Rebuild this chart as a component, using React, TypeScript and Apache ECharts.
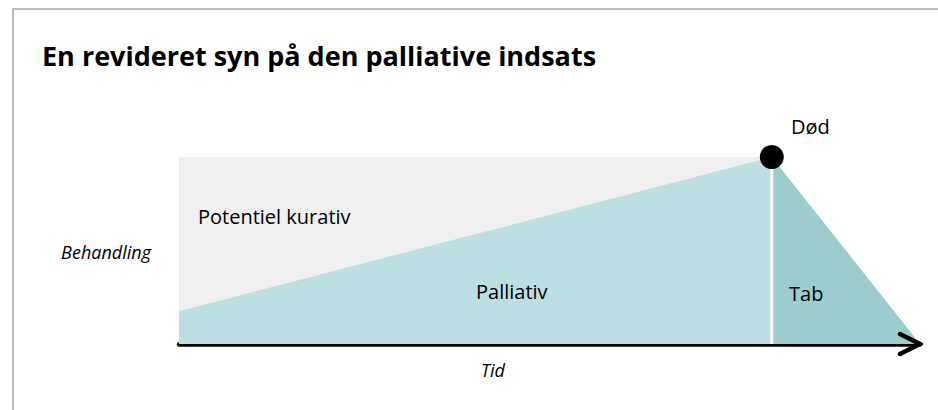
import React, { useEffect, useRef } from "react";
import * as echarts from "echarts";

// Time positions (0 = start, 80 = death, 100 = end of bereavement)
const timeStart = 0;
const timeDeath = 80;
const timeEnd = 100;
// Treatment levels
const curativeLevel = [100, 100];
const palliativeLevel = [17.5, 100];
const lossLevel = [100, 0];
const deathPoint = [timeDeath, 100];
const arrowHead = [[97.3, 5.3], [100, 0], [97.3, -5.3]];

const titleText = "En revideret syn på den palliative indsats";
const xName = "Tid";
const yName = "Behandling";
const labels = { curative: "Potentiel kurativ", palliative: "Palliativ", loss: "Tab", death: "Død" };

const FONT = "'Open Sans', 'Noto Sans', sans-serif";

export default function App() {
  const ref = useRef<HTMLDivElement>(null);
  useEffect(() => {
    document.body.style.margin = "0";
    const chart = echarts.init(ref.current!, null, { renderer: "svg" });
    const grid = { left: 179, right: 18, top: 157, bottom: 66 };
    const txt = (text: string, x: number, y: number, extra: any = {}) => ({
      type: "text",
      x,
      y,
      z: 100,
      style: { text, fontFamily: FONT, fontSize: 20, fill: "#000", verticalAlign: "middle", ...extra },
    });
    chart.setOption({
      animation: false,
      backgroundColor: "#ffffff",
      title: {
        text: titleText,
        left: 37,
        top: 37,
        textStyle: { fontFamily: FONT, fontSize: 27, fontWeight: "bold", color: "#000" },
      },
      grid,
      xAxis: {
        type: "value",
        min: timeStart,
        max: timeEnd,
        axisLine: { show: true, lineStyle: { color: "#000", width: 4.5 } },
        axisTick: { show: false },
        axisLabel: { show: false },
        splitLine: { show: false },
      },
      yAxis: {
        type: "value",
        min: 0,
        max: 100,
        axisLine: { show: false },
        axisTick: { show: false },
        axisLabel: { show: false },
        splitLine: { show: false },
      },
      graphic: [
        {
          type: "rect",
          shape: { x: 13, y: 9, width: 940, height: 420 },
          style: { fill: "none", stroke: "#bbbbbb", lineWidth: 2 },
          silent: true,
        },
        txt(yName, 151, 252, { fontSize: 18, fontStyle: "italic", align: "right" }),
        txt(xName, 493, 370, { fontSize: 18, fontStyle: "italic", align: "center" }),
        txt(labels.curative, 198, 216),
        txt(labels.palliative, 476, 291),
        txt(labels.loss, 789, 293),
        txt(labels.death, 791, 126),
      ],
      series: [
        {
          type: "line",
          data: [[timeStart, curativeLevel[0]], [timeDeath, curativeLevel[1]]],
          symbol: "none",
          lineStyle: { width: 0 },
          areaStyle: { color: "#f0f0f0", opacity: 1 },
          z: 1,
        },
        {
          type: "line",
          data: [[timeStart, palliativeLevel[0]], [timeDeath, palliativeLevel[1]]],
          symbol: "none",
          lineStyle: { width: 0 },
          areaStyle: { color: "#bbdfe2", opacity: 1 },
          z: 2,
        },
        {
          type: "line",
          data: [[timeDeath, lossLevel[0]], [timeEnd, lossLevel[1]]],
          symbol: "none",
          lineStyle: { width: 0 },
          areaStyle: { color: "#9ccccd", opacity: 1 },
          z: 2,
        },
        {
          type: "line",
          data: [[timeDeath, 0], [timeDeath, 100]],
          symbol: "none",
          lineStyle: { color: "#ffffff", width: 3 },
          z: 3,
        },
        {
          type: "line",
          data: arrowHead,
          symbol: "none",
          clip: false,
          lineStyle: { color: "#000", width: 4.5, cap: "round", join: "miter" },
          z: 5,
        },
        {
          type: "scatter",
          data: [deathPoint],
          symbolSize: 24,
          itemStyle: { color: "#000", opacity: 1 },
          z: 6,
        },
      ],
    });
    return () => chart.dispose();
  }, []);
  return <div ref={ref} style={{ width: 938, height: 410 }} />;
}
